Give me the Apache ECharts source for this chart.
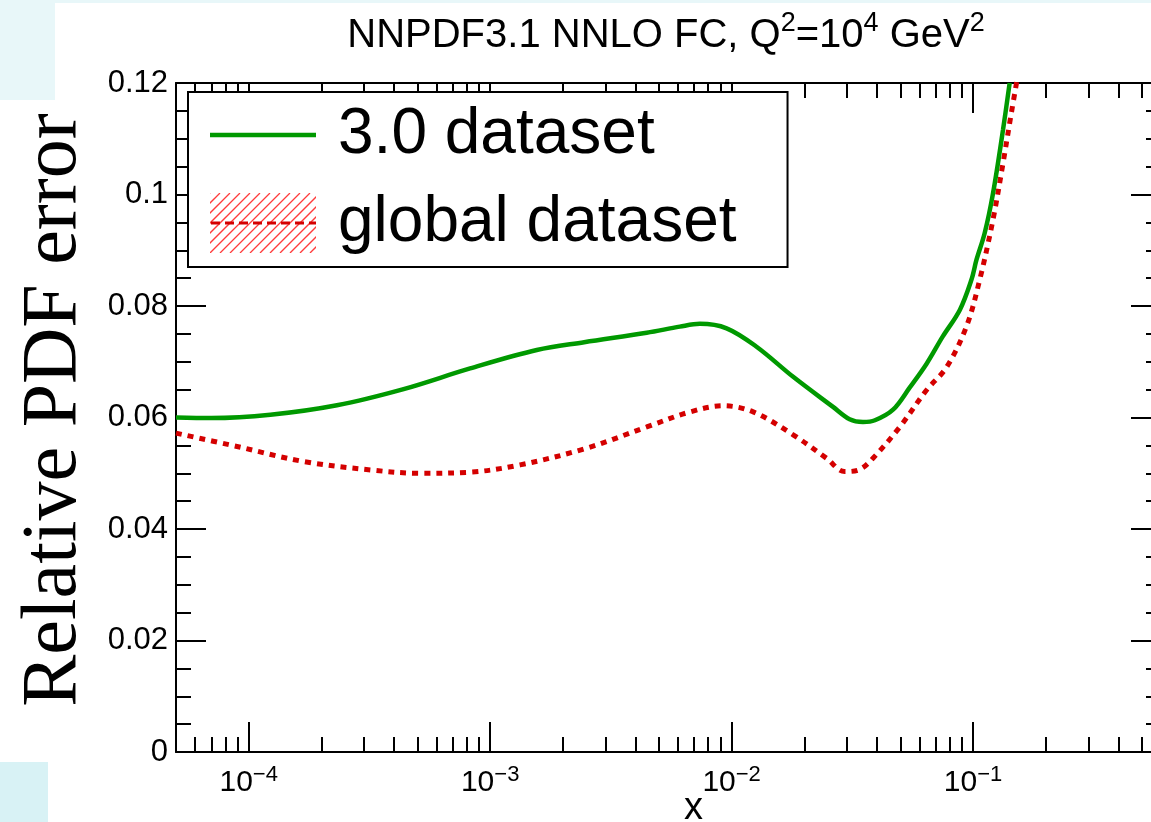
<!DOCTYPE html>
<html>
<head>
<meta charset="utf-8">
<script src="https://cdn.jsdelivr.net/npm/echarts@6/dist/echarts.min.js"></script>
<style>
html,body{margin:0;padding:0;background:#fff;overflow:hidden;}
#c{width:1175px;height:822px;}
</style>
</head>
<body>
<div id="c"></div>
<script>
// ---- data ----
const greenX = [5e-5, 7e-5, 1.23e-4, 2.32e-4, 4.38e-4, 8.26e-4, 1.56e-3, 2.45e-3, 4.45e-3, 6.1e-3, 7.39e-3, 9.53e-3, 0.01268, 0.01798, 0.0263, 0.0308, 0.0350, 0.0392, 0.0466, 0.0547, 0.0641, 0.0748, 0.0881, 0.0984, 0.1033, 0.1117, 0.1209, 0.133, 0.1417];
const greenY = [0.0600, 0.0599, 0.0605, 0.0622, 0.0651, 0.0688, 0.0721, 0.0735, 0.0752, 0.0763, 0.0768, 0.0760, 0.0727, 0.0673, 0.0619, 0.0597, 0.0592, 0.0595, 0.0614, 0.0654, 0.0696, 0.0745, 0.0793, 0.0847, 0.0883, 0.0931, 0.1002, 0.1116, 0.1200];
const redX = [5e-5, 8.95e-5, 1.69e-4, 3.19e-4, 5.13e-4, 8.26e-4, 1.33e-3, 2.51e-3, 4.45e-3, 6.72e-3, 9.23e-3, 0.01228, 0.01798, 0.0247, 0.0294, 0.0340, 0.0385, 0.0497, 0.0641, 0.0776, 0.0938, 0.1065, 0.1209, 0.133, 0.144, 0.152];
const redY = [0.0572, 0.0548, 0.0521, 0.0506, 0.0500, 0.0502, 0.0515, 0.0545, 0.0583, 0.0610, 0.0621, 0.0610, 0.0569, 0.0527, 0.0503, 0.0507, 0.0527, 0.0583, 0.0649, 0.0690, 0.0763, 0.0847, 0.0955, 0.1056, 0.1146, 0.1205];
const seriesNames = ['3.0 dataset', 'global dataset'];
const xMajorTicks = [1e-4, 1e-3, 1e-2, 1e-1];
const xMinorTicks = [6e-5, 7e-5, 8e-5, 9e-5,
  2e-4, 3e-4, 4e-4, 5e-4, 6e-4, 7e-4, 8e-4, 9e-4,
  2e-3, 3e-3, 4e-3, 5e-3, 6e-3, 7e-3, 8e-3, 9e-3,
  2e-2, 3e-2, 4e-2, 5e-2, 6e-2, 7e-2, 8e-2, 9e-2,
  0.2, 0.3, 0.4, 0.5];
const yTickLabels = ['0', '0.02', '0.04', '0.06', '0.08', '0.1', '0.12'];
const xRange = [5e-5, 0.6];
const yRange = [0, 0.12];
const titleText = 'NNPDF3.1 NNLO FC, Q{s|2}=10{s|4} GeV{s|2}';

// ---- helpers ----
const LX = v => Math.log10(v);
const SANS = '"Liberation Sans", Arial, Helvetica, sans-serif';
const SERIF = '"Liberation Serif", "Times New Roman", serif';

function svgUrl(svg){ return 'image://data:image/svg+xml;charset=utf-8,' + encodeURIComponent(svg); }
const greenIcon = svgUrl("<svg xmlns='http://www.w3.org/2000/svg' width='123' height='60' viewBox='0 0 123 60'><line x1='0' y1='30' x2='106' y2='30' stroke='#009900' stroke-width='4.5'/></svg>");
let hatch = '';
for (let k = -70; k <= 110; k += 10) hatch += "<line x1='" + k + "' y1='60' x2='" + (k + 60) + "' y2='0'/>";
const redIcon = svgUrl("<svg xmlns='http://www.w3.org/2000/svg' width='123' height='60' viewBox='0 0 123 60'><defs><clipPath id='c'><rect x='0' y='0' width='106' height='60'/></clipPath></defs><g clip-path='url(#c)' stroke='#ff3b3b' stroke-width='1.3'>" + hatch + "</g><line x1='1' y1='30' x2='106' y2='30' stroke='#d40000' stroke-width='3' stroke-dasharray='9,5'/></svg>");

const frameLine = { onZero: false, lineStyle: { color: '#000', width: 2 } };
const tickStyle = { color: '#000', width: 2 };

function xAxisDef(pos, major, withLabels){
  const ticks = (major ? xMajorTicks : xMinorTicks).map(LX);
  return {
    type: 'value', position: pos, min: LX(xRange[0]), max: LX(xRange[1]),
    axisLine: major ? frameLine : { show: false, onZero: false },
    axisTick: { show: true, inside: true, length: major ? 30 : 15, lineStyle: tickStyle, customValues: ticks },
    axisLabel: withLabels ? {
      show: true, customValues: ticks, margin: 12, color: '#000',
      formatter: v => '{b|10}{s|\u2212' + Math.round(-v) + '}',
      rich: { b: { fontSize: 30, fontFamily: SANS, color: '#000' },
              s: { fontSize: 22, fontFamily: SANS, color: '#000', padding: [0, 0, 16, 0] } }
    } : { show: false },
    splitLine: { show: false }, minorTick: { show: false }, minorSplitLine: { show: false }
  };
}

const xMain = xAxisDef('bottom', true, true);
xMain.name = 'x';
xMain.nameLocation = 'middle';
xMain.nameGap = 38;
xMain.nameMoveOverlap = false;
xMain.nameTextStyle = { fontSize: 38, fontFamily: SANS, color: '#000', padding: [0, 0, 0, 50] };

function yAxisDef(pos, withLabels){
  const d = {
    type: 'value', position: pos, min: yRange[0], max: yRange[1], interval: 0.02,
    axisLine: frameLine,
    axisTick: { show: true, inside: true, length: 30, lineStyle: tickStyle },
    minorTick: { show: true, splitNumber: 4, length: 15, lineStyle: tickStyle },
    axisLabel: withLabels ? {
      show: true, margin: 8, fontSize: 31, fontFamily: SANS, color: '#000',
      formatter: v => yTickLabels[Math.round(v / 0.02)]
    } : { show: false },
    splitLine: { show: false }, minorSplitLine: { show: false }
  };
  if (withLabels) {
    d.name = 'Relative PDF error';
    d.nameLocation = 'middle';
    d.nameRotate = 90;
    d.nameGap = 82;
    d.nameMoveOverlap = false;
    d.nameTextStyle = { fontSize: 78, fontFamily: SERIF, color: '#000', padding: [0, 0, 0, 15] };
  }
  return d;
}

const chart = echarts.init(document.getElementById('c'), null, { renderer: 'canvas' });
chart.setOption({
  animation: false,
  backgroundColor: '#fff',
  grid: { left: 176, top: 83, right: 14, bottom: 70, containLabel: false, outerBoundsMode: 'none' },
  xAxis: [ xMain, xAxisDef('bottom', false, false), xAxisDef('top', true, false), xAxisDef('top', false, false) ],
  yAxis: [ yAxisDef('left', true), yAxisDef('right', false) ],
  legend: {
    show: true, orient: 'vertical', left: 188, top: 92,
    padding: [11, 51, 12, 22], itemWidth: 123, itemHeight: 60, itemGap: 24,
    borderColor: '#000', borderWidth: 2, backgroundColor: '#fff', selectedMode: false,
    textStyle: { fontSize: 64, fontFamily: SANS, color: '#000' },
    data: [ { name: seriesNames[0], icon: greenIcon }, { name: seriesNames[1], icon: redIcon } ]
  },
  graphic: [
    { type: 'rect', silent: true, z: -10, shape: { x: 0, y: 0, width: 1175, height: 3 }, style: { fill: '#e8f7f9' } },
    { type: 'rect', silent: true, z: -10, shape: { x: 0, y: 0, width: 55, height: 100 }, style: { fill: '#e8f7f9' } },
    { type: 'rect', silent: true, z: -10, shape: { x: 0, y: 762, width: 48, height: 60 }, style: { fill: '#d8f2f5' } },
    { type: 'text', silent: true, z: 10,
      style: { x: 666, y: 36, text: titleText, fill: '#000', fontSize: 40, fontFamily: SANS,
               align: 'center', textAlign: 'center', verticalAlign: 'middle', textVerticalAlign: 'middle',
               rich: { s: { fontSize: 27, fontFamily: SANS, fill: '#000', padding: [0, 0, 24, 0] } } } }
  ],
  series: [
    { name: seriesNames[0], type: 'line', xAxisIndex: 0, yAxisIndex: 0,
      data: greenX.map((x, i) => [LX(x), greenY[i]]),
      symbol: 'none', showSymbol: false, smooth: 0.35, clip: true, z: 3,
      lineStyle: { color: '#009900', width: 4.5 }, itemStyle: { color: '#009900' } },
    { name: seriesNames[1], type: 'line', xAxisIndex: 0, yAxisIndex: 0,
      data: redX.map((x, i) => [LX(x), redY[i]]),
      symbol: 'none', showSymbol: false, smooth: 0.35, clip: true, z: 2,
      lineStyle: { color: '#d40000', width: 5, type: [6, 6] }, itemStyle: { color: '#d40000' } }
  ]
});
</script>
</body>
</html>
